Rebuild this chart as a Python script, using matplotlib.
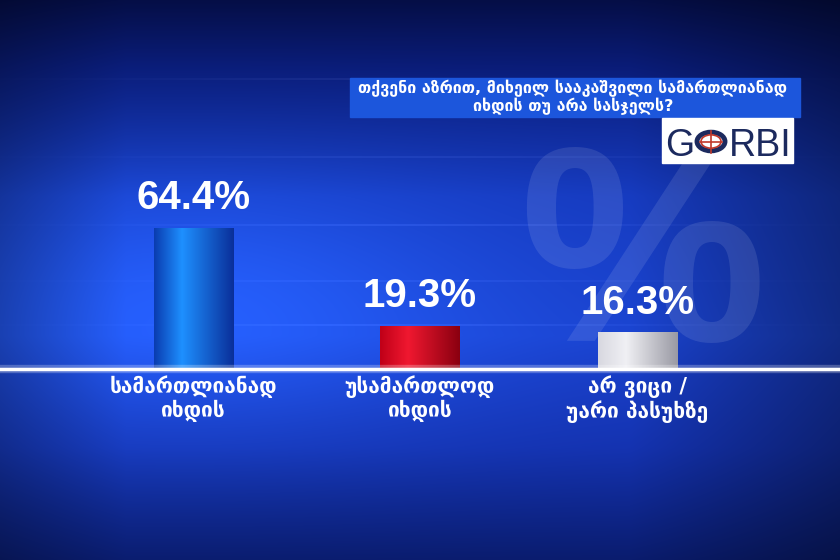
import matplotlib.pyplot as plt
import numpy as np
from matplotlib.patches import Rectangle, Circle

question = "თქვენი აზრით, მიხეილ სააკაშვილი სამართლიანად\nიხდის თუ არა სასჯელს?"
categories = ["სამართლიანად\nიხდის", "უსამართლოდ\nიხდის", "არ ვიცი /\nუარი პასუხზე"]
values = [64.4, 19.3, 16.3]
positions = [0, 1.02, 2.0]
bar_colors = [("#0a3cb0", "#1e90ff", "#0a2f9a"),
              ("#c00018", "#f01830", "#8a0010"),
              ("#d8d8e0", "#f0f0f4", "#9a9aa4")]

W, H = 840, 560
fig = plt.figure(figsize=(8.4, 5.6), dpi=100)
ax = fig.add_axes([0, 0, 1, 1])

# background gradient
yy, xx = np.mgrid[0:1:H * 1j, 0:1:W * 1j]
stops_y = [0.0, 0.12, 0.35, 0.6, 0.66, 0.8, 1.0]
stops_c = np.array([[5, 14, 70], [10, 28, 120], [22, 58, 190], [26, 66, 205],
                    [24, 60, 195], [20, 50, 175], [10, 28, 110]]) / 255
bg = np.zeros((H, W, 3))
for k in range(3):
    bg[..., k] = np.interp(yy, stops_y, stops_c[:, k])
glow = np.exp(-(((xx - 0.22) / 0.35) ** 2 + ((yy - 0.55) / 0.25) ** 2))
bg = bg + glow[..., None] * np.array([0.05, 0.12, 0.2])
edge = 1 - 0.35 * np.clip((xx - 0.75) / 0.25, 0, 1) - 0.25 * np.clip((0.15 - xx) / 0.15, 0, 1)
bg = np.clip(bg * edge[..., None], 0, 1)
# faint horizontal streaks baked into the background
for y0, a in [(0.14, 0.05), (0.28, 0.04), (0.4, 0.05), (0.5, 0.035), (0.58, 0.045)]:
    r0 = int(y0 * H)
    fade = np.exp(-((xx[0] - 0.5) / 0.3) ** 2)
    bg[r0:r0 + 2] = np.clip(bg[r0:r0 + 2] + a * fade[:, None], 0, 1)
ax.imshow(bg, extent=[0, 1, 0, 1], transform=ax.transAxes, aspect="auto", zorder=0)

# big percent watermark
ax.text(0.765, 0.52, "%", transform=ax.transAxes, fontsize=200, color="white",
        alpha=0.1, ha="center", va="center", fontweight="bold",
        family="Liberation Sans", zorder=1)

# data scale: baseline at 192 px from bottom, 2.17 px per percent
px = 2.17
ax.set_ylim(-192 / px, (H - 192) / px)
ax.set_xlim(-193.5 / 222, (W - 193.5) / 222)
ax.axis("off")

bars = ax.bar(positions, values, width=0.356, color="none", zorder=3)
for b, cols in zip(bars, bar_colors):
    x0, w, h = b.get_x(), b.get_width(), b.get_height()
    grad = np.interp(np.linspace(0, 1, 100), [0, 0.35, 1], [0, 1, 2])
    rgb = np.array([[int(c[i:i + 2], 16) / 255 for i in (1, 3, 5)] for c in cols])
    row = np.stack([np.interp(grad, [0, 1, 2], rgb[:, k]) for k in range(3)], axis=-1)
    ax.imshow(row[None, :, :], extent=[x0, x0 + w, 0, h], aspect="auto", zorder=3)
    ax.text(b.get_x() + w / 2, h + 5, f"{h:.1f}%", ha="center", va="bottom",
            color="white", fontsize=29, fontweight="bold",
            family=["Liberation Sans Narrow", "Liberation Sans"], zorder=4)

# white base line
ax.axhline(-0.5, color="white", lw=6, alpha=0.25, zorder=4)
ax.axhline(-0.5, color="white", lw=2.5, zorder=5)

for p, lab in zip(positions, categories):
    ax.text(p, -3.5, lab, ha="center", va="top", color="white", fontsize=15,
            fontweight="bold", family="DejaVu Sans", linespacing=1.1, zorder=5)

# question box
ax.add_patch(Rectangle((350 / W, 1 - 117 / H), 450 / W, 39 / H, transform=ax.transAxes,
                       color="#1c56dc", zorder=5))
ax.text(573 / W, 1 - 97.5 / H, question, transform=ax.transAxes, ha="center",
        va="center", color="white", fontsize=11.5, fontweight="bold",
        family="DejaVu Sans", linespacing=1.0, zorder=6)

# GORBI logo
ax.add_patch(Rectangle((662 / W, 1 - 163 / H), 131 / W, 45 / H, transform=ax.transAxes,
                       color="white", zorder=5))
cy = 1 - 141.5 / H
ax.text(665 / W, cy, "G", transform=ax.transAxes, ha="left", va="center_baseline",
        color="#1c2a5e", fontsize=27, family="Liberation Sans", zorder=6)
ax.text(729 / W, cy, "RBI", transform=ax.transAxes, ha="left", va="center_baseline",
        color="#1c2a5e", fontsize=27, family="Liberation Sans", zorder=6)
r = 14
cx = 711
ax.add_patch(Circle((cx / W, cy), r / W, transform=ax.transAxes, fill=False,
                    ec="#1c2a5e", lw=3.5, zorder=6))
ax.add_patch(Circle((cx / W, cy), (r - 4) / W, transform=ax.transAxes, fill=False,
                    ec="#c0392b", lw=1.2, zorder=6))
ax.plot([(cx - r + 3) / W, (cx + r - 3) / W], [cy, cy], transform=ax.transAxes,
        color="#c0392b", lw=1.2, zorder=6)
ax.plot([cx / W, cx / W], [cy - (r - 3) / H, cy + (r - 3) / H], transform=ax.transAxes,
        color="#c0392b", lw=1.2, zorder=6)

fig.savefig("out.png", dpi=100)
